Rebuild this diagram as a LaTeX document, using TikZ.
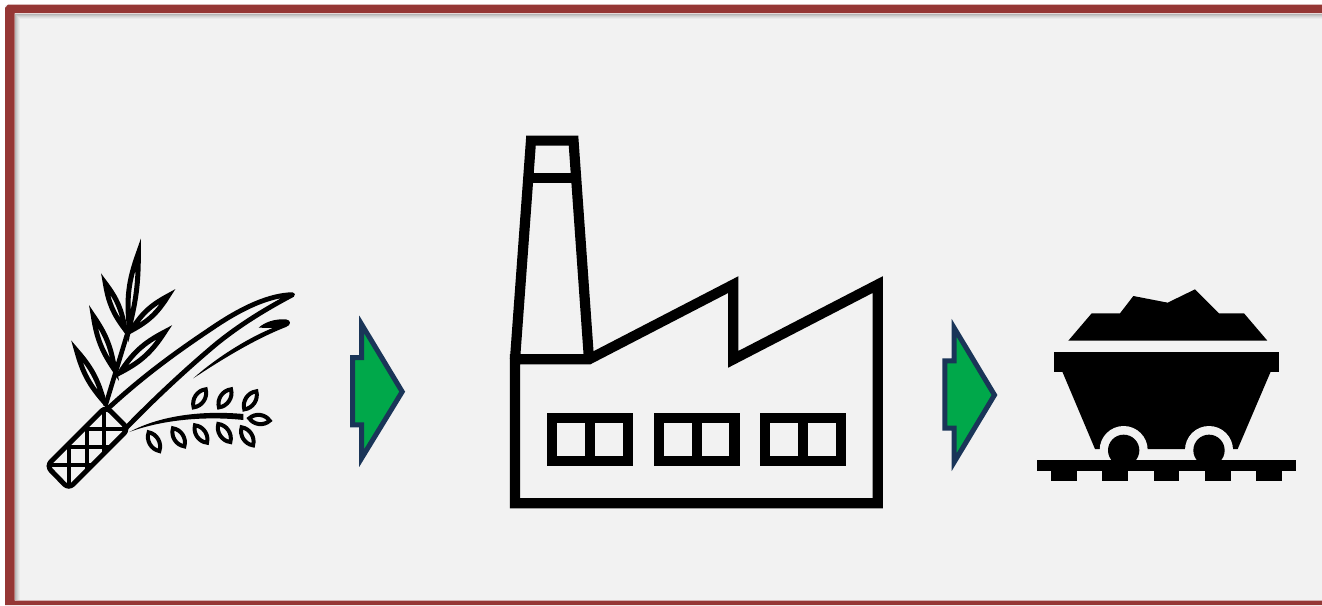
\documentclass[tikz,border=0pt]{standalone}
\definecolor{bgc}{HTML}{F2F2F2}
\definecolor{framec}{HTML}{953735}
\definecolor{arrowg}{HTML}{00A84A}
\definecolor{arrown}{HTML}{1A3558}
\tikzset{
  thickleaf/.style={draw=black,line width=5pt,line join=miter,miter limit=30},
  seedline/.style={draw=black,line width=4pt,line join=miter,miter limit=20},
  fact/.style={draw=black,line width=10.2pt,line join=miter,miter limit=10},
  arrowshape/.style={draw=arrown,fill=arrowg,line width=5pt,line join=miter,miter limit=10},
  blackfill/.style={fill=black,draw=none}
}
\newcommand{\seedleaf}[2]{\draw[seedline] (#1) to[bend left=50] (#2) to[bend left=50] (#1) -- cycle;}
\newcommand{\bigleaf}[4]{\draw[thickleaf] (#1) to[bend left=#3] (#2) to[bend left=#4] (#1) -- cycle;}
\begin{document}
\begin{tikzpicture}[x=1pt,y=-1pt]
\useasboundingbox (0,0) rectangle (1322,605);
% ground and frame
\fill[white] (0,0) rectangle (1322,605);
\fill[bgc] (5,5) rectangle (1322,605);
\foreach \i/\o in {1/.25,2/.18,3/.12,4/.07,5/.03}{
  \draw[black,opacity=\o,line width=1pt] (14+\i,600) -- (14+\i,13+\i) -- (1322,13+\i);
}
\fill[framec] (8,4.5) -- (1322,4.5) -- (1322,13) -- (14.5,13) -- (14.5,600.5) -- (1322,600.5) -- (1322,605) -- (5,605) -- (5,8) -- cycle;

% plant
\begin{scope}[shift={(30,230)},x=.33333pt,y=-.33333pt]
  \bigleaf{298,292}{325,70}{13}{7}
  \bigleaf{285,298}{226,160}{14}{14}
  \bigleaf{254,420}{190,258}{13}{13}
  \bigleaf{222,515}{140,362}{13}{13}
  \bigleaf{303,302}{414,198}{15}{15}
  \bigleaf{270,428}{404,306}{15}{15}
  \draw[black,line width=4.6pt] (226,528) -- (296,298);
  % handle
  \draw[black,line width=5pt,line join=round,rounded corners=6pt] (228,530) -- (295,597) -- (116,776) -- (50,708) -- cycle;
  \begin{scope}
    \clip (228,530) -- (295,597) -- (116,776) -- (50,708) -- cycle;
    \foreach \v in {118,170,222}{\draw[black,line width=4pt] (\v,500) -- (\v,790);}
    \foreach \h in {598,652,706}{\draw[black,line width=4pt] (30,\h) -- (310,\h);}
  \end{scope}
  % long blade
  \draw[black,line width=4.8pt,line cap=round,line join=round]
    (240,530) .. controls (360,420) and (470,345) .. (560,285)
    .. controls (640,232) and (720,195) .. (788,194)
    .. controls (730,225) and (640,275) .. (555,345)
    .. controls (460,425) and (370,510) .. (290,592);
  % lower curl
  \fill[black] (490,445) .. controls (545,395) and (640,330) .. (728,294)
    -- (686,293) .. controls (705,276) and (735,266) .. (768,268)
    .. controls (784,270) and (784,286) .. (768,291)
    .. controls (680,325) and (580,385) .. cycle;
  % seed branch
  \fill[black] (298,606) .. controls (400,552) and (530,542) .. (640,552)
    -- (640,570) .. controls (530,558) and (400,568) .. cycle;
  % seeds
  \seedleaf{491,532}{527,478}
  \seedleaf{567,532}{603,478}
  \seedleaf{643,538}{679,484}
  \seedleaf{658,565}{719,572}
  \seedleaf{388,663}{356,607}
  \seedleaf{463,649}{429,595}
  \seedleaf{531,638}{495,586}
  \seedleaf{601,636}{565,582}
  \seedleaf{669,646}{635,592}
\end{scope}

% factory
\draw[fact] (515,359.3) -- (515,503.3) -- (877.7,503.3) -- (877.7,284.6) -- (733.3,359.3) -- (733.3,284.6) -- (589,359.3) -- cycle;
\draw[fact] (515,359.3) -- (531,140.6) -- (573.5,140.6) -- (589,359.3);
\draw[black,line width=10pt] (526,178.3) -- (578,178.3);
\foreach \x in {552,658.8,765}{
  \draw[black,line width=10.2pt] (\x,418) rectangle (\x+75.6,461);
  \draw[black,line width=10pt] (\x+38,418) -- (\x+38,461);
}

% wagon
\begin{scope}[shift={(1020,270)},x=.33333pt,y=-.33333pt]
  \fill[blackfill] (145,212) -- (215,130) -- (300,130) -- (340,78) -- (443,98) -- (525,58) -- (597,130) -- (672,130) -- (742,212) -- cycle;
  \fill[blackfill] (102,246) rectangle (777,305);
  \fill[blackfill] (127,305) -- (225,537) -- (653,537) -- (752,305) -- cycle;
  \fill[bgc] (311,540) circle (72);
  \fill[bgc] (567,540) circle (72);
  \fill[blackfill] (50,571) rectangle (828,604);
  \foreach \x in {93,247,401,555,709}{\fill[blackfill] (\x,604) rectangle (\x+77,632);}
  \fill[blackfill] (311,541) circle (47);
  \fill[blackfill] (567,541) circle (47);
\end{scope}

% arrows
\draw[arrowshape] (352.5,357.5) -- (361.7,357.5) -- (361.7,324.5) -- (402.2,391.7) -- (361.7,458) -- (361.7,424.8) -- (352.5,424.8) -- cycle;
\draw[arrowshape] (944.8,360.8) -- (954.2,360.8) -- (954.2,328) -- (994.5,395) -- (954.2,462) -- (954.2,428.2) -- (944.8,428.2) -- cycle;
\end{tikzpicture}
\end{document}
